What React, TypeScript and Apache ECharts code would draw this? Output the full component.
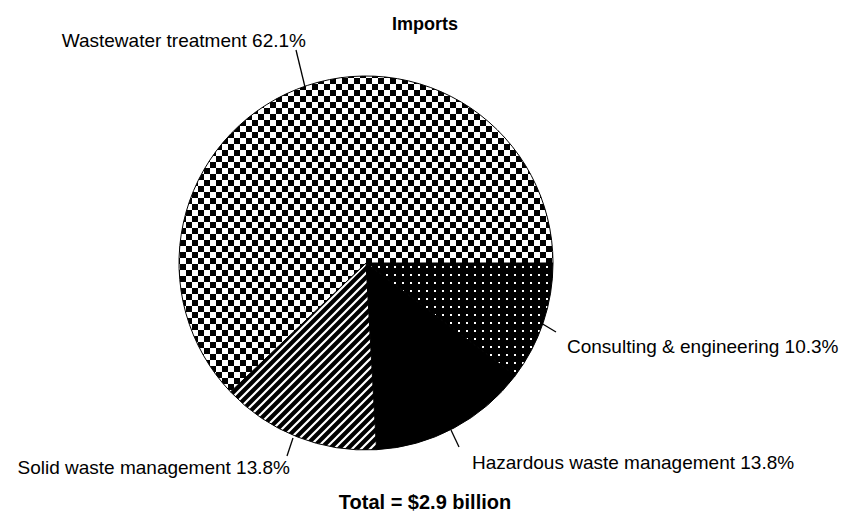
import React, { useEffect, useRef } from "react";
import * as echarts from "echarts";

const categories = [
  "Consulting & engineering",
  "Hazardous waste management",
  "Solid waste management",
  "Wastewater treatment",
];
const shares = [10.3, 13.8, 13.8, 62.1];
const titleText = "Imports";
const totalText = "Total = $2.9 billion";

function makeTile(w: number, h: number, draw: (ctx: CanvasRenderingContext2D) => void) {
  const c = document.createElement("canvas");
  c.width = w;
  c.height = h;
  const ctx = c.getContext("2d")!;
  draw(ctx);
  return { image: c, repeat: "repeat", imageWidth: w, imageHeight: h } as any;
}

export default function App() {
  const ref = useRef<HTMLDivElement>(null);
  useEffect(() => {
    document.body.style.margin = "0";
    const chart = echarts.init(ref.current!, null, { renderer: "svg" });

    const checker = makeTile(12, 12, (ctx) => {
      ctx.fillStyle = "#fff";
      ctx.fillRect(0, 0, 12, 12);
      ctx.fillStyle = "#000";
      ctx.fillRect(0, 0, 6, 6);
      ctx.fillRect(6, 6, 6, 6);
    });
    const dots = makeTile(8, 8, (ctx) => {
      ctx.fillStyle = "#000";
      ctx.fillRect(0, 0, 8, 8);
      ctx.fillStyle = "#fff";
      ctx.fillRect(2, 2, 2, 2);
    });
    const stripes = makeTile(9, 9, (ctx) => {
      ctx.fillStyle = "#000";
      ctx.fillRect(0, 0, 9, 9);
      ctx.strokeStyle = "#fff";
      ctx.lineWidth = 2.2;
      ctx.beginPath();
      ctx.moveTo(-3, 12);
      ctx.lineTo(12, -3);
      ctx.moveTo(-12, 12);
      ctx.lineTo(12, -12);
      ctx.moveTo(-3, 21);
      ctx.lineTo(21, -3);
      ctx.stroke();
    });
    const fills = [dots, "#000", stripes, checker];

    // label line [startX, startY, endX, endY] and text [x, y, align]
    const linePts: number[][] = [
      [541, 323, 556, 332],
      [451, 430, 459, 447],
      [293, 438, 287, 456],
      [305, 87, 296, 50],
    ];
    const textPos: [number, number, string][] = [
      [567, 346, "left"],
      [472, 462, "left"],
      [290, 467, "right"],
      [306, 40, "right"],
    ];

    chart.setOption({
      animation: false,
      title: [
        {
          text: titleText,
          left: "center",
          top: 10,
          textStyle: { fontFamily: "Liberation Sans", fontWeight: "bold", fontSize: 18, color: "#000" },
        },
        {
          text: totalText,
          left: "center",
          top: 487,
          textStyle: { fontFamily: "Liberation Sans", fontWeight: "bold", fontSize: 20, color: "#000" },
        },
      ],
      series: [
        {
          type: "pie",
          center: [366, 263],
          radius: 187,
          startAngle: 0,
          clockwise: true,
          data: categories.map((name, i) => ({
            name,
            value: shares[i],
            itemStyle: { color: fills[i] },
          })),
          itemStyle: { borderColor: "#000", borderWidth: 1 },
          label: {
            show: true,
            position: "outside",
            formatter: (p: any) => `${p.name} ${p.value.toFixed(1)}%`,
            fontFamily: "Liberation Sans",
            fontSize: 19,
            color: "#000",
          },
          labelLine: {
            show: true,
            length: 15,
            length2: 0,
            lineStyle: { color: "#000", width: 1.3 },
          },
          labelLayout: (params: any) => {
            const l = linePts[params.dataIndex];
            const t = textPos[params.dataIndex];
            return {
              x: t[0],
              y: t[1],
              align: t[2],
              verticalAlign: "middle",
              labelLinePoints: [
                [l[0], l[1]],
                [l[2], l[3]],
              ],
            };
          },
          emphasis: { disabled: true },
        },
      ],
    });
    return () => chart.dispose();
  }, []);
  return <div ref={ref} style={{ width: 850, height: 523 }} />;
}
